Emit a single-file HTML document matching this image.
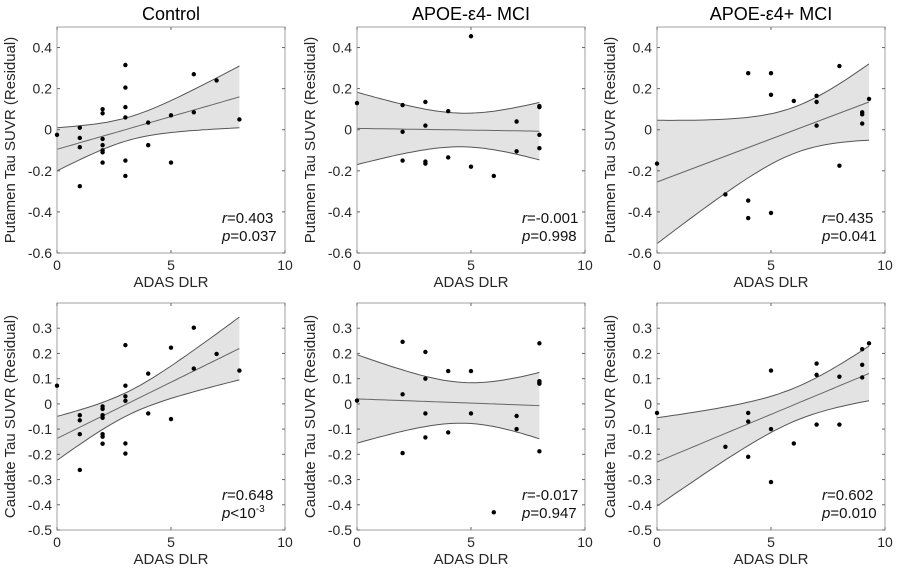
<!DOCTYPE html>
<html><head><meta charset="utf-8"><style>
html,body{margin:0;padding:0;background:#fff;}
svg{display:block;font-family:"Liberation Sans",sans-serif;}
</style></head><body>
<svg id="fig" width="900" height="571" viewBox="0 0 900 571"></svg>
<script>
// ---- data ----
const titles = ["Control", "APOE-\u03b54- MCI", "APOE-\u03b54+ MCI"];
const rowLabels = ["Putamen Tau SUVR (Residual)", "Caudate Tau SUVR (Residual)"];
const xTicks = [0, 5, 10];
const yTicksTop = [-0.6, -0.4, -0.2, 0, 0.2, 0.4];
const yTickLabelsTop = ["-0.6", "-0.4", "-0.2", "0", "0.2", "0.4"];
const yTicksBot = [-0.5, -0.4, -0.3, -0.2, -0.1, 0, 0.1, 0.2, 0.3];
const yTickLabelsBot = ["-0.5", "-0.4", "-0.3", "-0.2", "-0.1", "0", "0.1", "0.2", "0.3"];

const p1x = [0,1,1,1,1,2,2,2,2,2,2,2,3,3,3,3,3,3,4,4,5,5,6,6,7,8];
const p1y = [-0.025,0.01,-0.04,-0.085,-0.275,0.1,0.08,-0.045,-0.075,-0.1,-0.11,-0.16,0.315,0.205,0.11,0.06,-0.15,-0.225,0.035,-0.075,0.07,-0.16,0.27,0.085,0.24,0.05];
const p2x = [0,2,2,2,3,3,3,3,4,4,5,5,6,7,7,8,8,8,8];
const p2y = [0.13,0.12,-0.01,-0.15,0.135,0.02,-0.155,-0.165,0.09,-0.135,0.455,-0.18,-0.225,0.04,-0.105,0.115,0.11,-0.025,-0.09];
const p3x = [0,3,4,4,4,5,5,5,6,7,7,7,8,8,9,9,9,9.3];
const p3y = [-0.165,-0.315,0.275,-0.345,-0.43,0.275,0.17,-0.405,0.14,0.165,0.135,0.02,0.31,-0.175,0.085,0.075,0.03,0.15];
const c1x = [0,1,1,1,1,2,2,2,2,2,2,2,3,3,3,3,3,3,4,4,5,5,6,6,7,8];
const c1y = [0.072,-0.045,-0.065,-0.12,-0.262,-0.01,-0.02,-0.045,-0.055,-0.12,-0.13,-0.158,0.233,0.072,0.03,0.012,-0.157,-0.197,0.12,-0.038,0.223,-0.06,0.302,0.14,0.198,0.132];
const c2x = [0,2,2,2,3,3,3,3,4,4,5,5,6,7,7,8,8,8,8,8];
const c2y = [0.013,0.246,0.038,-0.195,0.206,0.1,-0.038,-0.133,0.13,-0.113,0.13,-0.038,-0.43,-0.048,-0.1,0.24,0.09,0.085,0.08,-0.188];
const c3x = [0,3,4,4,4,5,5,5,6,7,7,7,8,8,9,9,9,9.3];
const c3y = [-0.036,-0.17,-0.036,-0.07,-0.21,0.132,-0.1,-0.31,-0.157,0.16,0.115,-0.082,0.108,-0.082,0.217,0.155,0.105,0.24];

const rVals = ["0.403", "-0.001", "0.435", "0.648", "-0.017", "0.602"];
const pVals = ["=0.037", "=0.998", "=0.041", "<10", "=0.947", "=0.010"];

// ---- drawing ----
const NS = "http://www.w3.org/2000/svg";
const svg = document.getElementById("fig");
function mk(tag, attrs, parent, text) {
  const e = document.createElementNS(NS, tag);
  for (const k in attrs) e.setAttribute(k, attrs[k]);
  if (text !== undefined) e.textContent = text;
  (parent || svg).appendChild(e);
  return e;
}
const colX = [57, 357, 657];
const W = 228;
const rows = [
  {top: 27, bot: 253, ymin: -0.6, ymax: 0.5, ticks: yTicksTop, labels: yTickLabelsTop},
  {top: 303, bot: 530, ymin: -0.5, ymax: 0.4, ticks: yTicksBot, labels: yTickLabelsBot}
];
const panels = [[p1x,p1y],[p2x,p2y],[p3x,p3y],[c1x,c1y],[c2x,c2y],[c3x,c3y]];

function tcrit(df){ // approx two-sided 95%
  return 1.96 + 2.4/df + 2.5/(df*df);
}

panels.forEach((pd, i) => {
  const r = Math.floor(i/3), c = i % 3;
  const R = rows[r];
  const x0 = colX[c];
  const sx = v => x0 + v / 10 * W;
  const sy = v => R.bot - (v - R.ymin) / (R.ymax - R.ymin) * (R.bot - R.top);
  const g = mk("g", {});
  
  
  const xs = pd[0], ys = pd[1], n = xs.length;
  let mx = 0, my = 0; for (let k=0;k<n;k++){mx+=xs[k];my+=ys[k];} mx/=n; my/=n;
  let sxx=0, sxy=0; for (let k=0;k<n;k++){sxx+=(xs[k]-mx)**2; sxy+=(xs[k]-mx)*(ys[k]-my);}
  const b = sxy/sxx, a = my - b*mx;
  let sse=0; for (let k=0;k<n;k++){sse+=(ys[k]-a-b*xs[k])**2;}
  const s = Math.sqrt(sse/(n-2)), t = tcrit(n-2);
  const xmin = Math.min(...xs), xmax = Math.max(...xs);
  const up=[], lo=[], mid=[];
  for (let k=0;k<=40;k++){
    const xv = xmin + (xmax-xmin)*k/40;
    const yh = a + b*xv;
    const h = t*s*Math.sqrt(1/n + (xv-mx)**2/sxx);
    up.push(sx(xv).toFixed(1)+","+sy(yh+h).toFixed(1));
    lo.push(sx(xv).toFixed(1)+","+sy(yh-h).toFixed(1));
    mid.push(sx(xv).toFixed(1)+","+sy(yh).toFixed(1));
  }
  const band = mk("polygon", {points: up.concat(lo.slice().reverse()).join(" "), fill:"#e3e3e3", stroke:"none"}, g);
  
  
  const ul = mk("polyline", {points: up.join(" "), fill:"none", stroke:"#555", "stroke-width":1}, g);
  
  
  const ll = mk("polyline", {points: lo.join(" "), fill:"none", stroke:"#555", "stroke-width":1}, g);
  
  
  const fl = mk("polyline", {points: mid.join(" "), fill:"none", stroke:"#666", "stroke-width":1}, g);
  
  
  const box = mk("rect", {x:x0, y:R.top, width:W, height:R.bot-R.top, fill:"none", stroke:"#a0a0a0", "stroke-width":1}, g);
  
  
  xTicks.forEach(v => {
    mk("line", {x1:sx(v), x2:sx(v), y1:R.bot, y2:R.bot-3, stroke:"#666"}, g);
    mk("line", {x1:sx(v), x2:sx(v), y1:R.top, y2:R.top+3, stroke:"#666"}, g);
    const tl = mk("text", {x:sx(v), y:R.bot+17, "font-size":14, fill:"#262626", "text-anchor":"middle"}, g, String(v));
    
    
  });
  R.ticks.forEach((v, k) => {
    mk("line", {x1:x0, x2:x0+3, y1:sy(v), y2:sy(v), stroke:"#666"}, g);
    mk("line", {x1:x0+W, x2:x0+W-3, y1:sy(v), y2:sy(v), stroke:"#666"}, g);
    const tl = mk("text", {x:x0-5, y:sy(v)+5, "font-size":14, fill:"#262626", "text-anchor":"end"}, g, R.labels[k]);
    
    
  });
  for (let k=0;k<n;k++){
    const d = mk("circle", {cx:sx(xs[k]), cy:sy(ys[k]), r:2.2, fill:"#000"}, g);
    
    
  }
  const xl = mk("text", {x:x0+W/2, y:R.bot+34, "font-size":15, fill:"#262626", "text-anchor":"middle"}, g, "ADAS DLR");
  
  
  const ycx = x0-42, ycy = (R.top+R.bot)/2;
  const yl = mk("text", {x:ycx, y:ycy, "font-size":15, fill:"#262626", "text-anchor":"middle", transform:`rotate(-90 ${ycx} ${ycy})`}, g, rowLabels[r]);
  
  
  const st = mk("text", {x:x0+165, y:R.bot-30, "font-size":15, fill:"#111"}, g);
  
  
  mk("tspan", {"font-style":"italic"}, st, "r");
  mk("tspan", {}, st, "=" + rVals[i]);
  const sp = mk("text", {x:x0+165, y:R.bot-12, "font-size":15, fill:"#111"}, g);
  
  
  mk("tspan", {"font-style":"italic"}, sp, "p");
  mk("tspan", {}, sp, pVals[i]);
  if (pVals[i] === "<10") mk("tspan", {dy:-6, "font-size":10}, sp, "-3");
  if (r === 0) {
    const tt = mk("text", {x:x0+W/2, y:20, "font-size":18, fill:"#000", "text-anchor":"middle"}, g, titles[c]);
    
    
  }
});
</script>
</body></html>
